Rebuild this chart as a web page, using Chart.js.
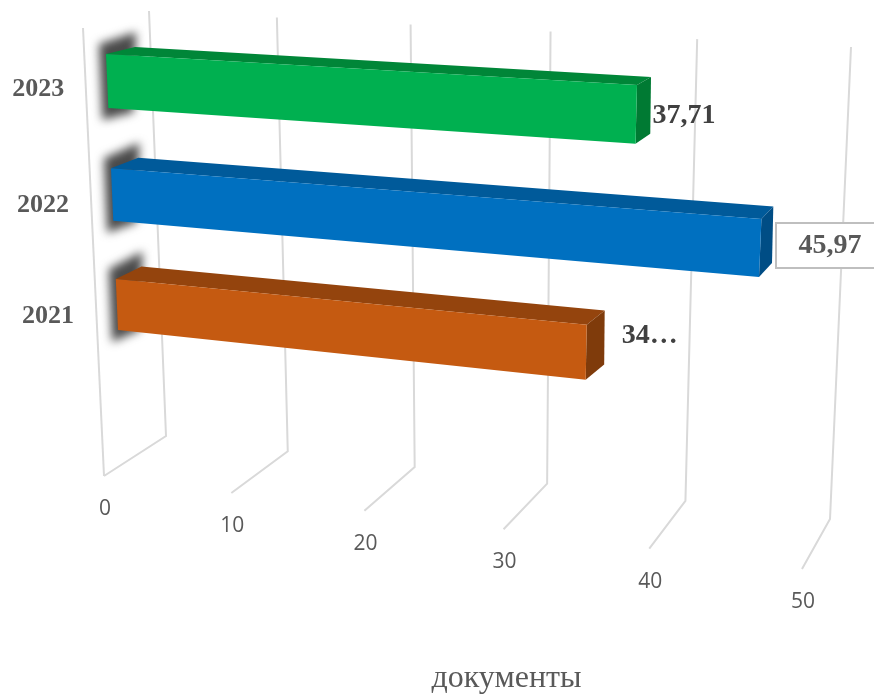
<!DOCTYPE html>
<html><head><meta charset="utf-8">
<style>html,body{margin:0;padding:0;background:#fff}canvas{display:block}</style>
<script src="https://cdn.jsdelivr.net/npm/chart.js@4"></script>
</head><body><canvas id="c" width="874" height="695"></canvas>
<script>
const categories = ['2023', '2022', '2021', ''];
const documentValues = [37.71, 45.97, 34.72, null];
const valueLabels = ['37,71', '45,97', '34…', ''];
const axisTicks = [0, 10, 20, 30, 40, 50];
const axisTitle = 'документы';

const frontColors = ['#00B050', '#0070C0', '#C55A11'];
const topColors = ['#008638', '#005A9A', '#94440D'];
const sideColors = ['#007A33', '#004D85', '#7F3B0B'];

// projection frame of the 3-D view (screen anchors of the scale corners)
const VIEW = {
  wall:  [[149,11],[166,436],[830,519],[851,47]],      // (0,top)(0,bottom)(50,bottom)(50,top)
  floor: [[104,476],[802,569],[830,519],[166,436]],    // (0,front)(50,front)(50,back)(0,back)
  sideTop: [83,28],
  barFront: [[106,54],[118,330],[637,85],[759,277]],   // (0,T1)(0,B3)(37.71,T1)(45.97,B2)
  barBack:  [[135,47],[143,317],[651,77],[772,263]]
};

function homography(src, dst){
  const A=[];
  for(let i=0;i<4;i++){
    const [x,y]=src[i],[u,v]=dst[i];
    A.push([x,y,1,0,0,0,-x*u,-y*u,u]);
    A.push([0,0,0,x,y,1,-x*v,-y*v,v]);
  }
  for(let c=0;c<8;c++){
    let p=c;
    for(let r=c+1;r<8;r++) if(Math.abs(A[r][c])>Math.abs(A[p][c])) p=r;
    [A[c],A[p]]=[A[p],A[c]];
    for(let r=0;r<8;r++){
      if(r===c) continue;
      const f=A[r][c]/A[c][c];
      for(let k=c;k<9;k++) A[r][k]-=f*A[c][k];
    }
  }
  const h=A.map((row,i)=>row[8]/row[i]);
  return (x,y)=>{
    const w=h[6]*x+h[7]*y+1;
    return [(h[0]*x+h[1]*y+h[2])/w,(h[3]*x+h[4]*y+h[5])/w];
  };
}
function poly(ctx,pts,fill){
  ctx.beginPath();
  pts.forEach((p,i)=>i?ctx.lineTo(p[0],p[1]):ctx.moveTo(p[0],p[1]));
  ctx.closePath();
  ctx.fillStyle=fill;
  ctx.fill();
}
function line(ctx,pts){
  ctx.beginPath();
  pts.forEach((p,i)=>i?ctx.lineTo(p[0],p[1]):ctx.moveTo(p[0],p[1]));
  ctx.stroke();
}
const SERIF='"Liberation Serif", "Times New Roman", serif';
const labelStyle=[
  {catDy:8,dx:17,dy:-28,align:'left',color:'#404040'},
  {catDy:11,box:true,dx:71,dy:-31,align:'center',color:'#595959'},
  {catDy:12,dx:36,dy:-44,align:'left',color:'#404040'}
];

const view3d={
  id:'view3d',
  projections(chart){
    const xs=chart.scales.x, ys=chart.scales.y, bars=chart.getDatasetMeta(0).data;
    const T=b=>b.y-b.height/2, B=b=>b.y+b.height/2;
    const src=[[xs.getPixelForValue(0),T(bars[0])],
               [xs.getPixelForValue(0),B(bars[2])],
               [bars[0].x,T(bars[0])],
               [bars[1].x,B(bars[1])]];
    const x0=xs.getPixelForValue(0), x1=xs.getPixelForValue(50);
    return {
      wall:homography([[x0,ys.top],[x0,ys.bottom],[x1,ys.bottom],[x1,ys.top]],VIEW.wall),
      floor:homography([[x0,0],[x1,0],[x1,1],[x0,1]],VIEW.floor),
      front:homography(src,VIEW.barFront),
      back:homography(src,VIEW.barBack)
    };
  },
  beforeDatasetsDraw(chart){
    const ctx=chart.ctx, xs=chart.scales.x, ys=chart.scales.y, P=this.projections(chart);
    ctx.save();
    ctx.strokeStyle='#D9D9D9'; ctx.lineWidth=2; ctx.lineJoin='miter';
    axisTicks.forEach(t=>{
      const x=xs.getPixelForValue(t);
      const f=P.floor(x,0), b=P.floor(x,1), w=P.wall(x,ys.top);
      line(ctx,[f,b,w]);
      if(t===0) line(ctx,[f,VIEW.sideTop]);
    });
    ctx.restore();
    ctx.save();
    ctx.fillStyle='#595959';
    ctx.font='21px "Open Sans", sans-serif';
    ctx.textAlign='center'; ctx.textBaseline='middle';
    axisTicks.forEach(t=>{
      const f=P.floor(xs.getPixelForValue(t),0);
      ctx.fillText(String(t),f[0]+1,f[1]+33);
    });
    ctx.font='32px '+SERIF;
    ctx.fillText(axisTitle,506.5,679);
    ctx.restore();
  },
  beforeDatasetDraw(chart,args){
    const ctx=chart.ctx, xs=chart.scales.x, P=this.projections(chart);
    const x0=xs.getPixelForValue(0);
    const bars=args.meta.data;
    bars.forEach((b,i)=>{
      if(documentValues[i]==null) return;
      const T=b.y-b.height/2, B=b.y+b.height/2;
      const fTL=P.front(x0,T), fBL=P.front(x0,B), fTR=P.front(b.x,T), fBR=P.front(b.x,B);
      const bTL=P.back(x0,T), bBL=P.back(x0,B), bTR=P.back(b.x,T), bBR=P.back(b.x,B);
      // soft shadow behind the bar start
      ctx.save();
      ctx.filter='blur(5px)';
      poly(ctx,[[fTL[0]-7,fTL[1]-10],[bTL[0]+1,bTL[1]-15],[bBL[0]-3,bBL[1]+13],[fBL[0]-6,fBL[1]+12]],'#4A4A4A');
      ctx.restore();
      poly(ctx,[fTL,bTL,bTR,fTR],topColors[i]);
      poly(ctx,[fTR,bTR,bBR,fBR],sideColors[i]);
      poly(ctx,[fTL,fTR,fBR,fBL],b.options.backgroundColor);
    });
    return false;
  },
  afterDatasetsDraw(chart){
    const ctx=chart.ctx, xs=chart.scales.x, P=this.projections(chart);
    const x0=xs.getPixelForValue(0);
    const bars=chart.getDatasetMeta(0).data;
    ctx.save();
    ctx.textBaseline='middle';
    bars.forEach((b,i)=>{
      if(documentValues[i]==null) return;
      const s=labelStyle[i];
      const mid=P.front(x0,b.y);
      ctx.font='bold 26px '+SERIF;
      ctx.fillStyle='#595959';
      ctx.textAlign='right';
      ctx.fillText(categories[i],mid[0]-43,mid[1]+s.catDy);
      const end=P.front(b.x,b.y+b.height/2);
      const x=end[0]+s.dx, y=end[1]+s.dy;
      if(s.box){
        ctx.fillStyle='#fff'; ctx.strokeStyle='#BFBFBF'; ctx.lineWidth=2;
        ctx.fillRect(x-54,y-23,110,45);
        ctx.strokeRect(x-54,y-23,110,45);
      }
      ctx.font='bold 28px '+SERIF;
      ctx.fillStyle=s.color;
      ctx.textAlign=s.align;
      ctx.fillText(valueLabels[i],x,y);
    });
    ctx.restore();
  }
};

new Chart(document.getElementById('c'),{
  type:'bar',
  data:{labels:categories,datasets:[{label:axisTitle,data:documentValues,backgroundColor:frontColors,
        categoryPercentage:1,barPercentage:0.47}]},
  options:{
    indexAxis:'y',responsive:false,animation:false,
    layout:{padding:{left:104,right:72,top:28,bottom:219}},
    plugins:{legend:{display:false},tooltip:{enabled:false}},
    scales:{
      x:{display:false,min:0,max:50,ticks:{stepSize:10}},
      y:{display:false}
    }
  },
  plugins:[view3d]
});
</script></body></html>
